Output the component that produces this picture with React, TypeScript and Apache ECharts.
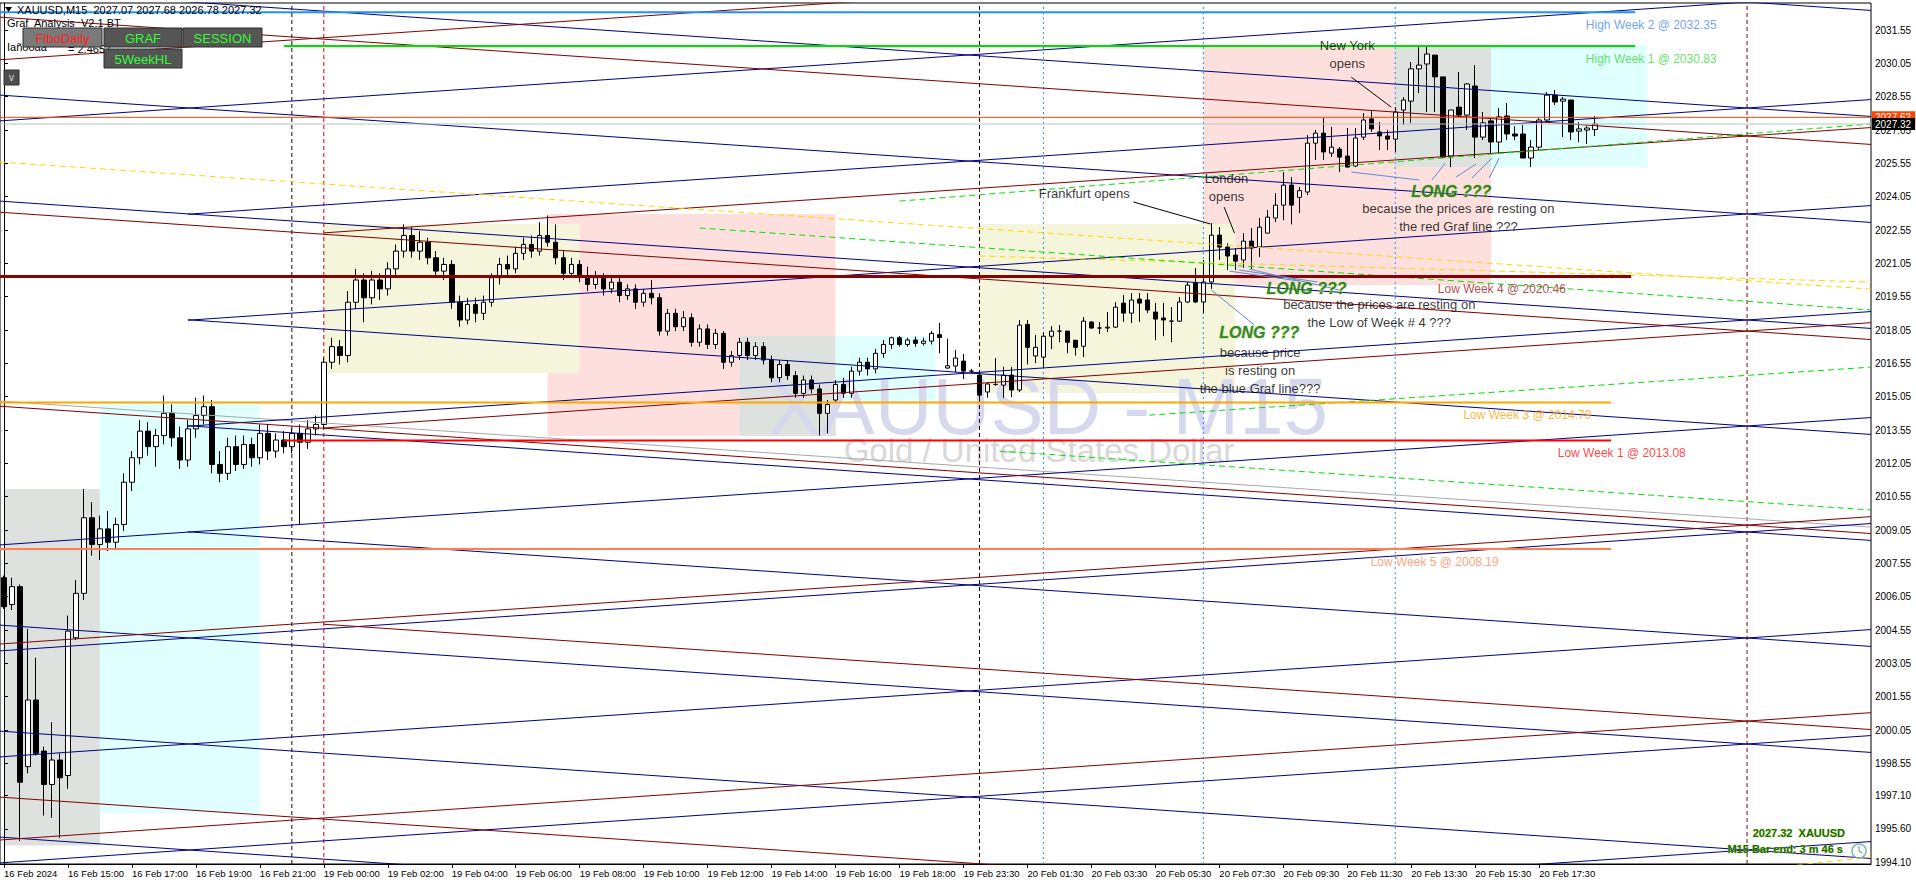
import React, { useEffect, useRef } from "react";
import * as echarts from "echarts";

const FONT = "'Liberation Sans', Arial, Helvetica, sans-serif";
const SLOT_COUNT = 234;
const Y_MIN = 1994.02;
const Y_MAX = 2032.765;

// ---- time axis ----
const timeSegments = [
  { startIndex: 0, day: 16, startMinute: 13 * 60 },
  { startIndex: 40, day: 19, startMinute: 0 },
  { startIndex: 120, day: 19, startMinute: 23 * 60 + 30 },
];
const xTickIndex = [0, 8, 16, 24, 32, 40, 48, 56, 64, 72, 80, 88, 96, 104, 112, 120, 128, 136, 144, 152, 160, 168, 176, 184, 192];
const xTickText = [
  "16 Feb 2024", "16 Feb 15:00", "16 Feb 17:00", "16 Feb 19:00", "16 Feb 21:00",
  "19 Feb 00:00", "19 Feb 02:00", "19 Feb 04:00", "19 Feb 06:00", "19 Feb 08:00",
  "19 Feb 10:00", "19 Feb 12:00", "19 Feb 14:00", "19 Feb 16:00", "19 Feb 18:00",
  "19 Feb 23:30", "20 Feb 01:30", "20 Feb 03:30", "20 Feb 05:30", "20 Feb 07:30",
  "20 Feb 09:30", "20 Feb 11:30", "20 Feb 13:30", "20 Feb 15:30", "20 Feb 17:30",
];
const yTickValues = [
  2031.55, 2030.05, 2028.55, 2027.05, 2025.55, 2024.05, 2022.55, 2021.05, 2019.55, 2018.05,
  2016.55, 2015.05, 2013.55, 2012.05, 2010.55, 2009.05, 2007.55, 2006.05, 2004.55, 2003.05,
  2001.55, 2000.05, 1998.55, 1997.1, 1995.6, 1994.1,
];

// ---- candles (M15) ----
const opens = [
  2006.9, 2005.7, 2006.5, 1998.4, 2001.4, 1999.1, 1997.6, 1998.7, 1998.0, 2004.2,
  2006.2, 2009.6, 2008.4, 2009.1, 2008.5, 2009.3, 2011.2, 2012.3, 2013.5, 2012.8,
  2013.3, 2014.3, 2013.2, 2012.2, 2013.6, 2014.2, 2014.6, 2012.0, 2011.6, 2012.8,
  2012.0, 2012.9, 2012.3, 2013.4, 2012.6, 2013.1, 2012.8, 2013.4, 2013.0, 2013.6,
  2013.8, 2016.6, 2017.3, 2016.9, 2019.3, 2020.3, 2019.5, 2020.3, 2019.9, 2020.8,
  2021.6, 2022.3, 2021.6, 2022.0, 2021.3, 2020.7, 2021.0, 2019.3, 2018.5, 2019.2,
  2018.8, 2019.3, 2020.4, 2021.0, 2020.8, 2021.5, 2021.9, 2021.6, 2022.3, 2022.0,
  2021.3, 2020.6, 2021.0, 2020.5, 2020.1, 2020.4, 2019.9, 2020.2, 2019.6, 2019.9,
  2019.3, 2019.7, 2019.5, 2018.0, 2018.8, 2018.2, 2018.6, 2017.5, 2018.1, 2017.4,
  2017.9, 2016.6, 2016.9, 2017.5, 2016.9, 2017.3, 2016.7, 2015.9, 2016.5, 2016.0,
  2015.2, 2015.8, 2015.4, 2014.3, 2014.9, 2015.6, 2015.2, 2016.2, 2016.6, 2016.3,
  2017.0, 2017.4, 2017.7, 2017.4, 2017.6, 2017.45, 2017.55, 2017.84, 2016.34, 2016.43,
  2016.65, 2016.2, 2016.02, 2015.26, 2015.6, 2015.57, 2016.02, 2015.35, 2018.3, 2016.88,
  2016.83, 2017.77, 2018.0, 2018.0, 2017.59, 2017.32, 2018.41, 2018.14, 2018.14, 2018.18,
  2019.26, 2018.81, 2019.44, 2019.4, 2018.86, 2018.59, 2018.45, 2018.45, 2019.31, 2020.16,
  2019.31, 2020.21, 2022.32, 2021.78, 2021.42, 2021.2, 2022.05, 2021.78, 2022.41, 2023.09,
  2023.67, 2024.57, 2024.02, 2024.26, 2026.46, 2026.91, 2026.01, 2026.19, 2025.88, 2025.43,
  2026.73, 2027.55, 2026.96, 2026.78, 2026.64, 2027.95, 2028.35, 2029.8, 2030.02, 2030.42,
  2029.44, 2025.88, 2028.08, 2027.72, 2029.03, 2026.73, 2027.46, 2026.51, 2027.68, 2026.87,
  2026.87, 2025.79, 2026.28, 2027.5, 2028.62, 2028.35, 2028.4, 2027.0, 2027.05, 2027.07,
];
const highs = [
  2007.0, 2006.9, 2006.6, 2004.6, 2003.3, 1999.3, 2000.4, 1999.0, 2005.2, 2006.8,
  2010.9, 2010.3, 2009.7, 2009.9, 2009.6, 2011.6, 2012.6, 2014.0, 2013.9, 2013.6,
  2015.1, 2014.7, 2013.7, 2014.0, 2015.0, 2015.1, 2014.9, 2012.6, 2013.2, 2013.3,
  2013.3, 2013.2, 2013.8, 2013.8, 2013.4, 2013.5, 2013.6, 2013.8, 2014.0, 2014.2,
  2016.8, 2017.7, 2017.6, 2019.8, 2020.8, 2020.6, 2020.7, 2020.6, 2021.1, 2021.9,
  2022.8, 2022.7, 2022.5, 2022.2, 2021.6, 2021.3, 2021.2, 2019.6, 2019.5, 2019.5,
  2019.6, 2020.6, 2021.3, 2021.4, 2021.8, 2022.2, 2022.3, 2022.9, 2023.2, 2022.8,
  2021.6, 2021.3, 2021.2, 2020.9, 2020.7, 2020.6, 2020.5, 2020.4, 2020.1, 2020.1,
  2019.9, 2020.3, 2019.7, 2019.0, 2019.0, 2018.9, 2018.8, 2018.3, 2018.3, 2018.1,
  2018.0, 2017.1, 2017.7, 2017.7, 2017.5, 2017.5, 2016.9, 2016.7, 2016.7, 2016.2,
  2016.0, 2016.0, 2015.6, 2014.9, 2015.8, 2015.9, 2016.4, 2016.8, 2016.8, 2017.2,
  2017.6, 2017.75, 2017.78, 2017.7, 2017.75, 2017.7, 2018.0, 2018.37, 2017.66, 2017.15,
  2016.97, 2016.3, 2016.16, 2015.7, 2016.79, 2016.4, 2016.38, 2018.5, 2018.5, 2017.82,
  2017.96, 2018.23, 2018.27, 2018.0, 2017.59, 2018.63, 2018.45, 2018.41, 2018.86, 2019.31,
  2019.62, 2019.71, 2019.71, 2019.71, 2019.26, 2019.26, 2019.08, 2019.53, 2020.21, 2020.84,
  2021.2, 2022.86, 2022.68, 2021.95, 2021.74, 2022.41, 2022.64, 2023.09, 2023.45, 2024.21,
  2025.16, 2024.93, 2024.48, 2026.82, 2027.05, 2027.59, 2027.19, 2026.28, 2027.14, 2027.14,
  2027.81, 2027.95, 2027.41, 2027.05, 2028.08, 2028.53, 2030.11, 2030.78, 2030.83, 2030.42,
  2029.44, 2027.95, 2029.66, 2029.16, 2029.97, 2027.86, 2027.59, 2028.04, 2028.26, 2027.23,
  2027.28, 2026.6, 2027.59, 2028.76, 2028.85, 2028.53, 2028.4, 2027.41, 2027.23, 2027.68,
];
const lows = [
  2005.5, 2005.45, 1995.05, 1998.1, 1998.9, 1996.2, 1996.1, 1995.2, 1997.4, 2004.1,
  2005.9, 2007.9, 2007.7, 2008.1, 2008.2, 2009.0, 2010.8, 2012.0, 2012.4, 2011.9,
  2012.9, 2012.8, 2011.8, 2011.9, 2013.2, 2013.8, 2011.6, 2011.2, 2011.3, 2011.7,
  2011.8, 2011.9, 2012.0, 2012.2, 2012.3, 2012.5, 2012.5, 2009.3, 2012.7, 2013.3,
  2013.6, 2016.3, 2016.5, 2016.6, 2019.0, 2018.4, 2019.2, 2019.4, 2019.6, 2020.5,
  2021.3, 2021.3, 2021.2, 2021.0, 2020.4, 2020.3, 2019.0, 2018.2, 2018.3, 2018.4,
  2018.5, 2019.1, 2020.1, 2020.5, 2020.6, 2021.2, 2021.3, 2021.4, 2021.8, 2021.0,
  2020.3, 2020.4, 2020.2, 2019.8, 2019.9, 2019.6, 2019.7, 2019.3, 2019.4, 2019.0,
  2019.1, 2019.2, 2017.8, 2017.8, 2018.0, 2018.0, 2017.3, 2017.3, 2017.2, 2017.2,
  2016.3, 2016.4, 2016.7, 2016.7, 2016.7, 2016.5, 2015.7, 2015.7, 2015.8, 2015.0,
  2015.0, 2015.2, 2013.3, 2013.4, 2014.8, 2015.0, 2015.0, 2016.0, 2016.0, 2016.1,
  2016.8, 2017.2, 2017.3, 2017.3, 2017.3, 2017.35, 2017.4, 2017.0, 2016.3, 2016.16,
  2015.84, 2016.1, 2014.99, 2015.0, 2015.53, 2015.0, 2015.03, 2015.26, 2016.5, 2016.56,
  2016.34, 2017.19, 2017.5, 2017.0, 2016.9, 2016.83, 2018.1, 2017.87, 2017.96, 2018.14,
  2018.41, 2018.36, 2018.41, 2018.81, 2017.59, 2017.77, 2017.5, 2018.41, 2019.26, 2019.26,
  2018.8, 2019.9, 2021.2, 2020.75, 2020.75, 2020.84, 2020.8, 2021.33, 2022.41, 2022.9,
  2022.99, 2022.8, 2023.31, 2024.12, 2025.7, 2025.7, 2025.84, 2025.16, 2025.38, 2025.38,
  2026.6, 2026.96, 2026.15, 2026.15, 2026.06, 2027.28, 2027.37, 2028.71, 2027.86, 2027.86,
  2025.79, 2025.38, 2027.64, 2027.05, 2025.79, 2026.6, 2026.01, 2026.01, 2026.6, 2026.6,
  2025.79, 2025.38, 2026.15, 2027.37, 2028.17, 2026.73, 2026.6, 2026.5, 2026.42, 2026.78,
];
const closes = [
  2005.6, 2006.5, 1997.7, 2001.4, 1999.0, 1997.6, 1998.7, 1997.9, 2004.5, 2006.2,
  2009.6, 2008.4, 2009.1, 2008.5, 2009.3, 2011.2, 2012.3, 2013.5, 2012.8, 2013.3,
  2014.3, 2013.2, 2012.2, 2013.6, 2014.2, 2014.6, 2012.0, 2011.6, 2012.8, 2012.0,
  2012.9, 2012.3, 2013.4, 2012.6, 2013.1, 2012.8, 2013.4, 2013.0, 2013.6, 2013.8,
  2016.6, 2017.3, 2016.9, 2019.3, 2020.3, 2019.5, 2020.3, 2019.9, 2020.8, 2021.6,
  2022.3, 2021.6, 2022.0, 2021.3, 2020.7, 2021.0, 2019.3, 2018.5, 2019.2, 2018.8,
  2019.3, 2020.4, 2021.0, 2020.8, 2021.5, 2021.9, 2021.6, 2022.3, 2022.0, 2021.3,
  2020.6, 2021.0, 2020.5, 2020.1, 2020.4, 2019.9, 2020.2, 2019.6, 2019.9, 2019.3,
  2019.7, 2019.5, 2018.0, 2018.8, 2018.2, 2018.6, 2017.5, 2018.1, 2017.4, 2017.9,
  2016.6, 2016.9, 2017.5, 2016.9, 2017.3, 2016.7, 2015.9, 2016.5, 2016.0, 2015.2,
  2015.8, 2015.4, 2014.3, 2014.7, 2015.6, 2015.2, 2016.2, 2016.6, 2016.3, 2017.0,
  2017.4, 2017.7, 2017.4, 2017.6, 2017.45, 2017.55, 2017.9, 2017.71, 2016.44, 2016.79,
  2016.2, 2016.2, 2015.12, 2015.62, 2015.6, 2016.02, 2015.35, 2018.27, 2017.27, 2017.27,
  2017.77, 2018.0, 2018.0, 2017.5, 2017.27, 2018.45, 2018.14, 2018.14, 2018.18, 2019.08,
  2018.81, 2019.4, 2019.26, 2018.95, 2018.54, 2018.5, 2018.45, 2019.31, 2020.07, 2019.31,
  2020.21, 2022.32, 2021.78, 2021.38, 2021.15, 2022.05, 2021.74, 2022.68, 2023.13, 2023.67,
  2024.57, 2023.67, 2024.32, 2026.46, 2026.91, 2026.06, 2026.28, 2025.83, 2025.38, 2026.69,
  2027.5, 2027.1, 2026.78, 2026.64, 2027.86, 2028.4, 2029.8, 2029.97, 2030.47, 2029.44,
  2025.83, 2027.95, 2027.72, 2029.12, 2026.73, 2027.37, 2026.51, 2027.64, 2026.87, 2026.78,
  2025.79, 2026.28, 2027.5, 2028.62, 2028.31, 2028.44, 2026.96, 2027.1, 2027.14, 2027.32,
];

// ---- session boxes [fromBar, toBar, top, bottom] ----
const londonBoxes = [[68, 104, 2023.27, 2013.28], [150, 186, 2030.87, 2020.07]];
const frankfurtBoxes = [[40, 72, 2022.82, 2016.11], [122, 154, 2022.82, 2015.21]];
const overlapBoxes = [[0, 12, 2010.9, 1994.85], [92, 104, 2017.78, 2013.28], [174, 186, 2030.87, 2025.38]];
const newYorkBoxes = [[12, 32, 2014.85, 1996.3], [104, 116.5, 2017.78, 2014.76], [186, 205.5, 2030.87, 2025.38]];

// ---- Graf trend lines [bar0, price0, bar1, price1] ----
const navyLines = [
  [-0.5, 2027.46, 233.5, 2033.19],
  [23, 2023.26, 233.5, 2028.42],
  [23, 2018.49, 233.5, 2023.65],
  [23, 2013.72, 233.5, 2018.88],
  [-0.5, 2008.38, 233.5, 2014.11],
  [-0.5, 2003.61, 233.5, 2009.34],
  [-0.5, 1998.84, 233.5, 2004.57],
  [-0.5, 1994.07, 233.5, 1999.8],
  [190, 1993.96, 233.5, 1995.03],
  [-0.5, 2038.16, 233.5, 2032.43],
  [-0.5, 2033.39, 233.5, 2027.66],
  [-0.5, 2028.62, 233.5, 2022.89],
  [-0.5, 2023.85, 233.5, 2018.12],
  [23, 2018.51, 233.5, 2013.35],
  [23, 2013.74, 233.5, 2008.58],
  [23, 2008.97, 233.5, 2003.81],
  [-0.5, 2004.77, 233.5, 1999.04],
  [-0.5, 2000.0, 233.5, 1994.27],
  [-0.5, 1995.23, 233.5, 1989.5],
];
const maroonLines = [
  [-0.5, 2032.13, 233.5, 2026.4],
  [-0.5, 2023.35, 233.5, 2017.62],
  [-0.5, 2014.62, 233.5, 2008.89],
  [40, 2004.81, 233.5, 2000.07],
  [-0.5, 1997.03, 233.5, 1991.3],
  [-0.5, 2030.21, 233.5, 2035.94],
  [40, 2022.42, 233.5, 2027.16],
  [40, 2013.64, 233.5, 2018.38],
  [-0.5, 2003.92, 233.5, 2009.65],
  [-0.5, 1995.1, 233.5, 2000.83],
];
const grayLines = [[-0.5, 2014.85, 233.5, 2009.18]];
const yellowDashedLines = [[-0.5, 2025.61, 233.5, 2019.89], [122, 2021.38, 233.5, 2020.21], [223, 1993.93, 233.5, 1994.33]];
const greenDashedLines = [
  [112, 2023.85, 233.5, 2027.32],
  [87, 2022.64, 233.5, 2018.95],
  [143.25, 2014.22, 233.5, 2016.38],
  [124.5, 2012.6, 233.5, 2009.95],
];

// ---- weekly high / low levels ----
const levelNames = ["High Week 2", "High Week 1", "Low Week 4", "Low Week 3", "Low Week 1", "Low Week 5"];
const levelValues = [2032.35, 2030.83, 2020.46, 2014.79, 2013.08, 2008.19];
const levelFromBar = [-0.5, 35, -0.5, -0.5, 35, -0.5];
const levelToBar = [204, 204, 203.5, 201, 201, 201];
const levelLabelBar = [214.25, 214.25, 195.4, 198.6, 210.4, 187];
const levelLineColors = ["#1e90ff", "#00e000", "#8b0000", "#ffa500", "#ff0000", "#ff7f50"];
const levelTextColors = ["#4a8cf0", "#3cd83c", "#9a1a1a", "#ffa500", "#ff1010", "#ff8a5a"];
const levelWidths = [2, 2, 3, 2, 2, 2];

const askPrice = 2027.62;
const bidPrice = 2027.32;

// ---- vertical separators (bar index) ----
const blackDashedBars = [36, 122];
const redDashedBars = [40];
const blueDottedBars = [130, 150, 174];
const maroonDashedBars = [218];

// ---- annotations ----
const noteTexts = [
  "New York\nopens",
  "London\nopens",
  "Frankfurt opens",
  "because the prices are resting on\nthe red Graf line ???",
  "because the prices are resting on\nthe Low of Week # 4 ???",
  "because price\nis resting on\nthe blue Graf line???",
];
const noteBars = [168, 152.9, 135.1, 181.9, 172, 157.1];
const notePrices = [2030.45, 2024.46, 2024.21, 2023.1, 2018.78, 2016.25];
const longBars = [181, 162.9, 157];
const longPrices = [2024.3, 2019.93, 2017.95];
const arrowLines = [
  [168.5, 2029.43, 173.5, 2028.08],
  [152.6, 2023.58, 153.9, 2022.41],
  [141.25, 2023.81, 150.9, 2022.82],
];
const pointerLines = [
  [178.6, 2024.8, 180.25, 2025.56],
  [181.6, 2024.93, 184.1, 2025.52],
  [183.6, 2024.89, 186.1, 2025.79],
  [185.75, 2024.89, 187, 2025.79],
  [168.5, 2025.16, 177, 2024.8],
  [153.25, 2020.7, 162, 2020.25],
  [154.5, 2020.75, 164.25, 2020.21],
  [155.75, 2020.79, 167, 2019.85],
  [151, 2019.85, 156.4, 2018.27],
];

function slotName(i: number): string {
  let seg = timeSegments[0];
  for (const s of timeSegments) if (i >= s.startIndex) seg = s;
  const total = seg.startMinute + (i - seg.startIndex) * 15;
  const day = seg.day + Math.floor(total / 1440);
  const m = total % 1440;
  const hh = String(Math.floor(m / 60)).padStart(2, "0");
  const mm = String(m % 60).padStart(2, "0");
  return `${day} Feb ${hh}:${mm}`;
}

function segSeries(segs: number[][], color: string, width: number, type: any, z: number) {
  return segs.map((s) => ({
    type: "line",
    xAxisIndex: 1,
    yAxisIndex: 0,
    data: [[s[0], s[1]], [s[2], s[3]]],
    symbol: "none",
    silent: true,
    z,
    lineStyle: { color, width, type },
  }));
}

function boxSeries(boxes: number[][], color: string) {
  return {
    type: "custom",
    xAxisIndex: 1,
    yAxisIndex: 0,
    silent: true,
    z: 0,
    data: boxes,
    encode: { x: [0, 1], y: [2, 3] },
    renderItem: (_p: any, api: any) => {
      const a = api.coord([api.value(0), api.value(2)]);
      const b = api.coord([api.value(1), api.value(3)]);
      return {
        type: "rect",
        shape: { x: a[0], y: a[1], width: b[0] - a[0], height: b[1] - a[1] },
        style: { fill: color },
      };
    },
  };
}

function vSeries(bars: number[], color: string, dash: number[]) {
  return bars.map((b) => ({
    type: "line",
    xAxisIndex: 1,
    yAxisIndex: 0,
    data: [[b, Y_MIN], [b, Y_MAX]],
    symbol: "none",
    silent: true,
    z: 3,
    lineStyle: { color, width: 1, type: dash },
  }));
}

function buildOption() {
  const categories = Array.from({ length: SLOT_COUNT }, (_, i) => slotName(i));
  const tickSet = new Set(xTickIndex);
  const candleData = opens.map((o, i) => [o, closes[i], lows[i], highs[i]]);

  const series: any[] = [
    boxSeries(londonBoxes, "#fde0dd"),
    boxSeries(frankfurtBoxes, "#f5f5dc"),
    boxSeries(overlapBoxes, "#dee2de"),
    boxSeries(newYorkBoxes, "#e0ffff"),
    ...vSeries(blackDashedBars, "#1a0000", [4, 3]),
    ...vSeries(redDashedBars, "#e00000", [4, 3]),
    ...vSeries(blueDottedBars, "#1e90ff", [2, 3]),
    ...vSeries(maroonDashedBars, "#800000", [4, 3]),
    {
      type: "candlestick",
      xAxisIndex: 0,
      yAxisIndex: 0,
      data: candleData,
      barWidth: 5,
      z: 4,
      silent: true,
      itemStyle: { color: "#ffffff", color0: "#000000", borderColor: "#000000", borderColor0: "#000000", borderWidth: 1 },
    },
    ...segSeries(grayLines, "#a8a8a8", 1, "solid", 5),
    ...segSeries(navyLines, "#000080", 1, "solid", 5),
    ...segSeries(maroonLines, "#800000", 1, "solid", 5),
    ...segSeries(yellowDashedLines, "#ffd700", 1, [6, 4], 5),
    ...segSeries(greenDashedLines, "#00e000", 1, [6, 4], 5),
  ];

  levelValues.forEach((v, i) => {
    series.push({
      type: "line",
      xAxisIndex: 1,
      yAxisIndex: 0,
      data: [[levelFromBar[i], v], [levelToBar[i], v]],
      symbol: "none",
      silent: true,
      z: 6,
      lineStyle: { color: levelLineColors[i], width: levelWidths[i] },
    });
  });

  series.push({
    type: "scatter",
    xAxisIndex: 1,
    yAxisIndex: 0,
    symbolSize: 1,
    silent: true,
    z: 20,
    itemStyle: { color: "rgba(0,0,0,0)" },
    data: levelValues.map((v, i) => ({
      value: [levelLabelBar[i], v],
      name: `${levelNames[i]} @ ${v.toFixed(2)}`,
      label: { color: levelTextColors[i] },
    })),
    label: {
      show: true,
      position: "left",
      distance: 0,
      offset: [0, 13],
      formatter: "{b}",
      fontSize: 12,
      lineHeight: 14,
      fontFamily: FONT,
    },
  });

  // ask / bid lines
  series.push({
    type: "line",
    xAxisIndex: 1,
    yAxisIndex: 0,
    data: [[-0.5, askPrice], [233.5, askPrice]],
    symbol: "none",
    silent: true,
    z: 21,
    lineStyle: { color: "#ff4500", width: 1 },
    endLabel: {
      show: true,
      formatter: () => askPrice.toFixed(2),
      backgroundColor: "#ff4500",
      color: "#ffffff",
      fontSize: 10,
      fontFamily: FONT,
      padding: [1, 4, 1, 3],
      distance: 1,
    },
  });
  series.push({
    type: "line",
    xAxisIndex: 1,
    yAxisIndex: 0,
    data: [[-0.5, bidPrice], [233.5, bidPrice]],
    symbol: "none",
    silent: true,
    z: 22,
    lineStyle: { color: "#c0c0c0", width: 1 },
    endLabel: {
      show: true,
      formatter: () => bidPrice.toFixed(2),
      backgroundColor: "#000000",
      color: "#ffffff",
      fontSize: 10,
      fontFamily: FONT,
      padding: [1, 4, 1, 3],
      distance: 1,
    },
  });

  series.push(...segSeries(arrowLines, "#000000", 1, "solid", 23));
  series.push(...segSeries(pointerLines, "#5c8ad6", 1, "solid", 23));

  series.push({
    type: "scatter",
    xAxisIndex: 1,
    yAxisIndex: 0,
    symbolSize: 1,
    silent: true,
    z: 24,
    itemStyle: { color: "rgba(0,0,0,0)" },
    data: noteTexts.map((t, i) => ({ value: [noteBars[i], notePrices[i]], name: t })),
    label: {
      show: true,
      position: "inside",
      formatter: "{b}",
      color: "#000000",
      fontSize: 13,
      lineHeight: 18,
      fontFamily: FONT,
      align: "center",
      verticalAlign: "middle",
    },
  });
  series.push({
    type: "scatter",
    xAxisIndex: 1,
    yAxisIndex: 0,
    symbolSize: 1,
    silent: true,
    z: 25,
    itemStyle: { color: "rgba(0,0,0,0)" },
    data: longBars.map((b, i) => ({ value: [b, longPrices[i]], name: "LONG ???" })),
    label: {
      show: true,
      position: "inside",
      formatter: "{b}",
      color: "#0a640a",
      fontSize: 16,
      lineHeight: 13,
      fontWeight: "bold",
      fontStyle: "italic",
      fontFamily: FONT,
      textBorderColor: "#a6e05a",
      textBorderWidth: 1,
      align: "center",
      verticalAlign: "middle",
    },
  });

  const btn = (x: number, y: number, w: number, h: number, fill: string, text: string, color: string) => [
    { type: "rect", z: 100, silent: true, shape: { x, y, width: w, height: h }, style: { fill, stroke: "#2e2e2e", lineWidth: 1 } },
    {
      type: "text",
      z: 101,
      silent: true,
      x: x + w / 2,
      y: y + h / 2 + 1,
      style: { text, fill: color, fontSize: 13, lineHeight: 14, fontFamily: FONT, align: "center", verticalAlign: "middle" },
    },
  ];

  const graphic: any[] = [
    {
      type: "text",
      z: 1,
      silent: true,
      x: 1048,
      y: 406,
      style: { text: "XAUUSD - M15", fill: "#d6d9ee", fontSize: 80, lineHeight: 58, fontFamily: FONT, align: "center", verticalAlign: "middle" },
    },
    {
      type: "text",
      z: 1,
      silent: true,
      x: 1039,
      y: 450,
      style: { text: "Gold / United States Dollar", fill: "#d8d8d8", fontSize: 33, lineHeight: 22, fontFamily: FONT, align: "center", verticalAlign: "middle" },
    },
    { type: "polygon", z: 100, silent: true, shape: { points: [[5, 7], [12, 7], [8.5, 12]] }, style: { fill: "#000" } },
    {
      type: "text",
      z: 100,
      silent: true,
      x: 17,
      y: 10,
      style: { text: "XAUUSD,M15  2027.07 2027.68 2026.78 2027.32", fill: "#000", fontSize: 11, fontFamily: FONT, verticalAlign: "middle" },
    },
    {
      type: "text",
      z: 100,
      silent: true,
      x: 7,
      y: 23,
      style: { text: "Graf  Analysis  V2.1 BT", fill: "#000", fontSize: 11, lineHeight: 11, fontFamily: FONT, verticalAlign: "middle" },
    },
    {
      type: "text",
      z: 99,
      silent: true,
      x: 7,
      y: 47,
      style: { text: "Iañöòáá", fill: "#000", fontSize: 11, fontFamily: FONT, verticalAlign: "middle" },
    },
    {
      type: "text",
      z: 99,
      silent: true,
      x: 68,
      y: 49,
      style: { text: "= 2.4657", fill: "#000", fontSize: 11, fontFamily: FONT, verticalAlign: "middle" },
    },
    ...btn(23, 28, 79, 19, "#7a7a7a", "FiboDaily", "#ff2020"),
    ...btn(104, 28, 78, 19, "#555555", "GRAF", "#33ff33"),
    ...btn(183, 28, 79, 19, "#555555", "SESSION", "#33ff33"),
    ...btn(104, 49, 78, 19, "#555555", "5WeekHL", "#33ff33"),
    { type: "rect", z: 100, silent: true, shape: { x: 4, y: 70, width: 15, height: 15 }, style: { fill: "#4d4d4d", stroke: "#2e2e2e" } },
    {
      type: "text",
      z: 101,
      silent: true,
      x: 11.5,
      y: 77,
      style: { text: "v", fill: "#dddddd", fontSize: 10, fontFamily: FONT, align: "center", verticalAlign: "middle" },
    },
    {
      type: "text",
      z: 100,
      silent: true,
      x: 1845,
      y: 833,
      style: {
        text: "2027.32  XAUUSD",
        fill: "#0f6e0f",
        stroke: "#d6d640",
        lineWidth: 0.6,
        fontSize: 11,
        lineHeight: 12,
        fontWeight: "bold",
        fontFamily: FONT,
        align: "right",
        verticalAlign: "middle",
      },
    },
    {
      type: "text",
      z: 100,
      silent: true,
      x: 1843,
      y: 849,
      style: {
        text: "M15 Bar end: 3 m 46 s",
        fill: "#0f6e0f",
        stroke: "#d6d640",
        lineWidth: 0.6,
        fontSize: 11,
        lineHeight: 12,
        fontWeight: "bold",
        fontFamily: FONT,
        align: "right",
        verticalAlign: "middle",
      },
    },
    { type: "circle", z: 100, silent: true, shape: { cx: 1859, cy: 851, r: 7 }, style: { fill: "none", stroke: "#7ab8a8", lineWidth: 1.5 } },
    { type: "line", z: 100, silent: true, shape: { x1: 1859, y1: 851, x2: 1859, y2: 846 }, style: { stroke: "#5a9a8a", lineWidth: 1 } },
    { type: "line", z: 100, silent: true, shape: { x1: 1859, y1: 851, x2: 1862, y2: 853 }, style: { stroke: "#5a9a8a", lineWidth: 1 } },
  ];

  return {
    animation: false,
    backgroundColor: "#ffffff",
    grid: {
      left: 0,
      right: 45,
      top: 3,
      bottom: 21,
      show: true,
      borderColor: "#000000",
      borderWidth: 1,
      backgroundColor: "#ffffff",
      containLabel: false,
      outerBoundsMode: "none",
    },
    xAxis: [
      {
        type: "category",
        data: categories,
        boundaryGap: true,
        axisLine: { show: true, lineStyle: { color: "#000000", width: 1 } },
        axisTick: {
          show: true,
          alignWithLabel: true,
          length: 4,
          interval: (idx: number) => tickSet.has(idx),
          lineStyle: { color: "#000000" },
        },
        axisLabel: {
          show: true,
          interval: (idx: number) => tickSet.has(idx),
          formatter: (_v: string, idx: number) => {
            const k = xTickIndex.indexOf(idx);
            return k >= 0 ? xTickText[k] : "";
          },
          align: "left",
          margin: 4,
          color: "#000000",
          fontSize: 9.5,
          fontFamily: FONT,
        },
        splitLine: { show: false },
      },
      { type: "value", min: -0.5, max: SLOT_COUNT - 0.5, show: false },
    ],
    yAxis: {
      type: "value",
      position: "right",
      min: Y_MIN,
      max: Y_MAX,
      axisLine: { show: true, lineStyle: { color: "#000000", width: 1 } },
      axisTick: { show: true, customValues: yTickValues, length: 4, lineStyle: { color: "#000000" } },
      axisLabel: {
        customValues: yTickValues,
        formatter: (v: number) => v.toFixed(2),
        color: "#000000",
        fontSize: 10,
        fontFamily: FONT,
        margin: 4,
      },
      splitLine: { show: false },
    },
    graphic,
    series,
  };
}

export default function App() {
  const ref = useRef<HTMLDivElement>(null);
  useEffect(() => {
    document.body.style.margin = "0";
    if (!ref.current) return;
    const chart = echarts.init(ref.current, undefined, { renderer: "svg" });
    chart.setOption(buildOption() as any);
    return () => chart.dispose();
  }, []);
  return <div ref={ref} style={{ width: 1916, height: 885, background: "#fff" }} />;
}
